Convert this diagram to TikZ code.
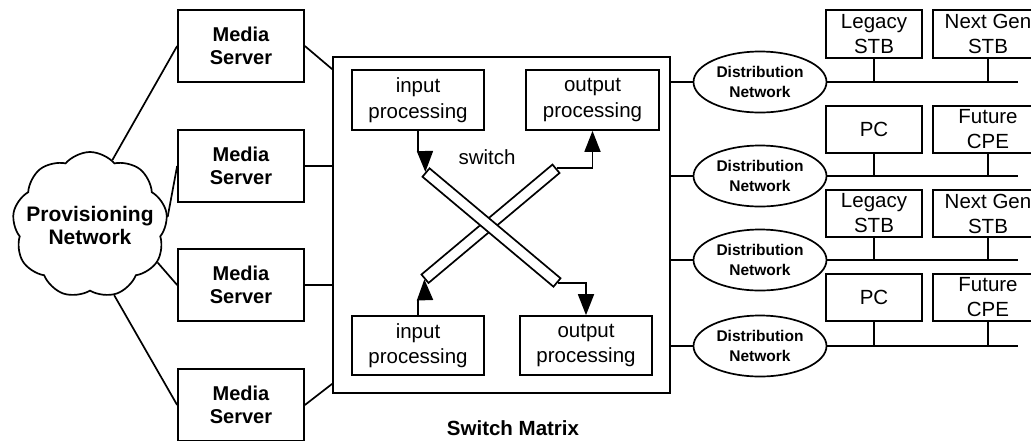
\documentclass[tikz,border=0pt]{standalone}
\usepackage{fontspec}
\setmainfont{Liberation Sans}
\usetikzlibrary{shapes.geometric,shapes.symbols,arrows.meta}

\begin{document}
\begin{tikzpicture}[x=1pt,y=-1pt,line width=1.7pt,line join=miter,
  box/.style={draw,fill=white,align=center,inner sep=0pt},
  server/.style={box,minimum width=126pt,minimum height=72pt,
    font=\fontsize{20}{23}\selectfont\bfseries},
  proc/.style={box,minimum width=132pt,minimum height=60pt,
    font=\fontsize{20.5}{25.5}\selectfont},
  device/.style={box,minimum height=47pt,font=\fontsize{20.5}{25}\selectfont},
  distnet/.style={draw,ellipse,minimum width=133pt,minimum height=61pt,
    inner sep=0pt,align=center,font=\fontsize{15.5}{19.5}\selectfont\bfseries},
  bar/.style={draw,fill=white,minimum width=171pt,minimum height=11pt,inner sep=0pt},
  tip/.style={-{Triangle[length=21pt,width=16pt]}},
  label/.style={inner sep=0pt,align=center}
]
\useasboundingbox (0,0) rectangle (1031,440);
\clip (0,0) rectangle (1031,440);

% provisioning cloud
\node[cloud,draw,cloud puffs=9,cloud puff arc=100,cloud ignores aspect,
  minimum width=155pt,minimum height=146pt,inner sep=0pt] (prov) at (90,225) {};
\node[label,font=\fontsize{21}{23}\selectfont\bfseries] (provtext) at (prov.center)
  {Provisioning\\Network};

% media servers
\node[server] (ms1) at (241,46)  {Media\\Server};
\node[server] (ms2) at (241,166) {Media\\Server};
\node[server] (ms3) at (241,285) {Media\\Server};
\node[server] (ms4) at (241,405) {Media\\Server};

\draw (prov.71)  -- (ms1.west);
\draw (prov.6)   -- (ms2.west);
\draw (prov.-29) -- (ms3.west);
\draw (prov.-71) -- (ms4.west);

% switch matrix
\node[draw,minimum width=337pt,minimum height=336pt,inner sep=0pt] (sw) at (501.5,225) {};
\node[label,font=\fontsize{20.5}{24}\selectfont\bfseries] (swlabel) at (513,428) {Switch Matrix};

\draw (ms1.east) -- ([yshift=-13pt]sw.north west);
\draw (ms2.east) -- (ms2.east -| sw.west);
\draw (ms3.east) -- (ms3.east -| sw.west);
\draw (ms4.east) -- ([yshift=10pt]sw.south west);

\node[proc] (inA)  at (418,100)   {input\\processing};
\node[proc,minimum width=133pt] (outA) at (592.5,100) {output\\processing};
\node[proc,minimum height=59pt] (inB)  at (418,345.5) {input\\processing};
\node[proc,minimum height=59pt] (outB) at (586,345.5) {output\\processing};

\node[label,font=\fontsize{20.5}{24}\selectfont] (swtxt) at (487,157) {switch};

% crossing switch bars
\node[bar,rotate=40]  (bar2) at (490.5,223.75) {};
\node[bar,rotate=-40] (bar1) at (491.5,227.5) {};

\draw (inA.south) -- ++(0,21) coordinate (kA);
\draw[tip] ([xshift=7pt]kA) -- (bar1.west);
\draw (inB.north) -- ++(0,-16) coordinate (kB);
\draw[tip] ([xshift=7pt]kB) -- (bar2.west);
\draw[tip] (bar2.east) -| (outA.south);
\draw[tip] (bar1.east) -| (outB.north);

% distribution networks
\node[distnet] (d1) at (760,82)  {Distribution\\Network};
\node[distnet] (d2) at (760,176) {Distribution\\Network};
\node[distnet] (d3) at (760,260) {Distribution\\Network};
\node[distnet] (d4) at (760,346) {Distribution\\Network};

\foreach \d in {d1,d2,d3,d4}
  \draw (\d.west) -- (\d.west -| sw.east);

% customer premises equipment
\coordinate (busend) at (1018,0);
\node[device,minimum width=96pt,minimum height=48pt]  (leg1) at (874,34)    {Legacy\\STB};
\node[device,minimum width=110pt,minimum height=48pt] (ng1)  at (988,34)    {Next Gen\\STB};
\node[device,minimum width=96pt]  (pc1)  at (874,129.5) {PC};
\node[device,minimum width=110pt] (fc1)  at (988,129.5) {Future\\CPE};
\node[device,minimum width=96pt]  (leg2) at (874,213.5) {Legacy\\STB};
\node[device,minimum width=110pt] (ng2)  at (988,213.5) {Next Gen\\STB};
\node[device,minimum width=96pt]  (pc2)  at (874,297.5) {PC};
\node[device,minimum width=110pt] (fc2)  at (988,297.5) {Future\\CPE};

\draw (d1.east) -- (d1.east -| busend);
\draw (d2.east) -- (d2.east -| busend);
\draw (d3.east) -- (d3.east -| busend);
\draw (d4.east) -- (d4.east -| busend);

\draw (leg1.south) -- (leg1.south |- d1.east);
\draw (ng1.south)  -- (ng1.south  |- d1.east);
\draw (pc1.south)  -- (pc1.south  |- d2.east);
\draw (fc1.south)  -- (fc1.south  |- d2.east);
\draw (leg2.south) -- (leg2.south |- d3.east);
\draw (ng2.south)  -- (ng2.south  |- d3.east);
\draw (pc2.south)  -- (pc2.south  |- d4.east);
\draw (fc2.south)  -- (fc2.south  |- d4.east);
\end{tikzpicture}
\end{document}
